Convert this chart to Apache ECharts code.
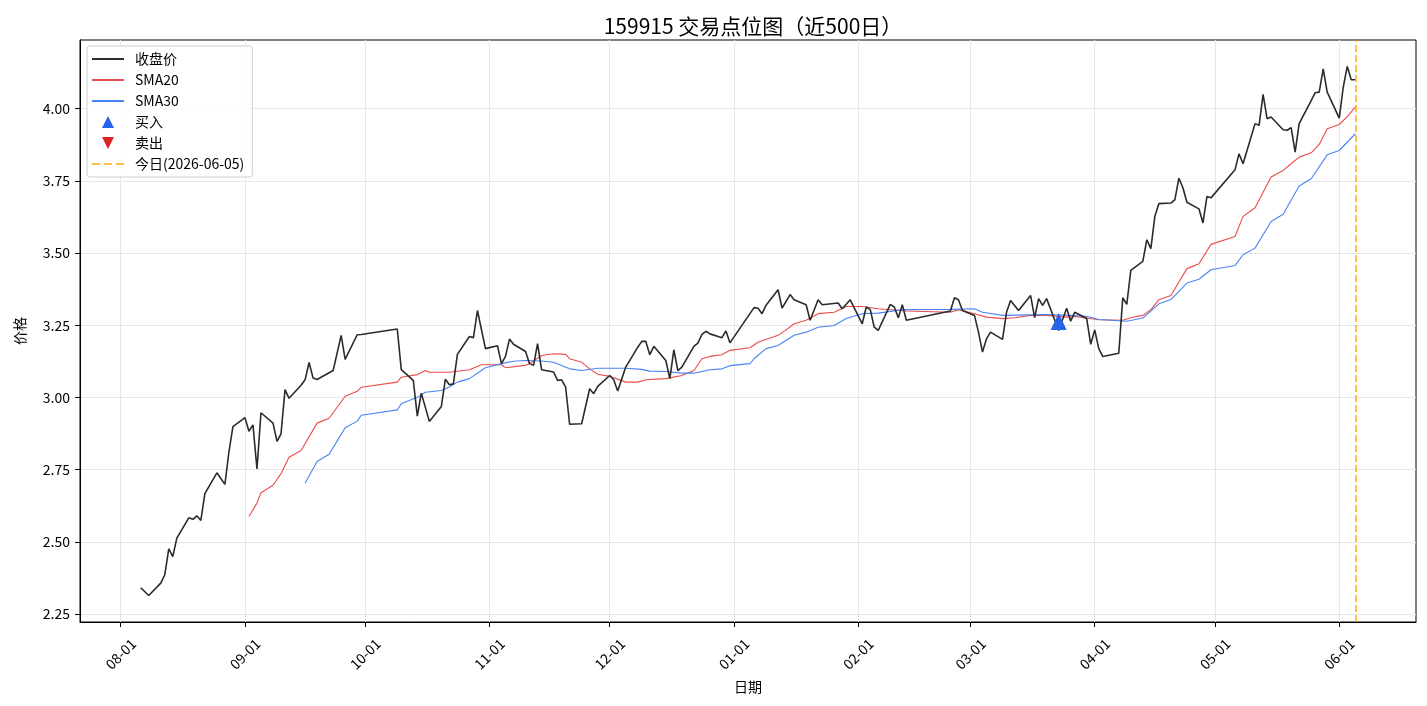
<!DOCTYPE html>
<html>
<head>
<meta charset="utf-8">
<title>159915 交易点位图</title>
<script src="https://cdn.jsdelivr.net/npm/echarts@6/dist/echarts.min.js"></script>
<style>
  html, body { margin: 0; padding: 0; background: #fff; }
  #chart { width: 1427px; height: 706px; }
</style>
</head>
<body>
<div id="chart"></div>
<script>
// closing prices
const priceDates = [
  "2025-08-06", "2025-08-08", "2025-08-11", "2025-08-12", "2025-08-13", "2025-08-14", "2025-08-15",
  "2025-08-18", "2025-08-19", "2025-08-20", "2025-08-21", "2025-08-22", "2025-08-25", "2025-08-27",
  "2025-08-28", "2025-08-29", "2025-09-01", "2025-09-02", "2025-09-03", "2025-09-04", "2025-09-05",
  "2025-09-08", "2025-09-09", "2025-09-10", "2025-09-11", "2025-09-12", "2025-09-15", "2025-09-16",
  "2025-09-17", "2025-09-18", "2025-09-19", "2025-09-23", "2025-09-25", "2025-09-26", "2025-09-29",
  "2025-09-30", "2025-10-09", "2025-10-10", "2025-10-13", "2025-10-14", "2025-10-15", "2025-10-17",
  "2025-10-20", "2025-10-21", "2025-10-22", "2025-10-23", "2025-10-24", "2025-10-27", "2025-10-28",
  "2025-10-29", "2025-10-31", "2025-11-03", "2025-11-04", "2025-11-05", "2025-11-06", "2025-11-07",
  "2025-11-10", "2025-11-11", "2025-11-12", "2025-11-13", "2025-11-14", "2025-11-17", "2025-11-18",
  "2025-11-19", "2025-11-20", "2025-11-21", "2025-11-24", "2025-11-26", "2025-11-27", "2025-11-28",
  "2025-12-01", "2025-12-02", "2025-12-03", "2025-12-05", "2025-12-08", "2025-12-09", "2025-12-10",
  "2025-12-11", "2025-12-12", "2025-12-15", "2025-12-16", "2025-12-17", "2025-12-18", "2025-12-19",
  "2025-12-22", "2025-12-23", "2025-12-24", "2025-12-25", "2025-12-26", "2025-12-29", "2025-12-30",
  "2025-12-31", "2026-01-06", "2026-01-07", "2026-01-08", "2026-01-09", "2026-01-12", "2026-01-13",
  "2026-01-15", "2026-01-16", "2026-01-19", "2026-01-20", "2026-01-22", "2026-01-23", "2026-01-27",
  "2026-01-28", "2026-01-30", "2026-02-02", "2026-02-03", "2026-02-04", "2026-02-05", "2026-02-06",
  "2026-02-09", "2026-02-10", "2026-02-11", "2026-02-12", "2026-02-13", "2026-02-24", "2026-02-25",
  "2026-02-26", "2026-02-27", "2026-03-02", "2026-03-03", "2026-03-04", "2026-03-05", "2026-03-06",
  "2026-03-09", "2026-03-10", "2026-03-11", "2026-03-13", "2026-03-16", "2026-03-17", "2026-03-18",
  "2026-03-19", "2026-03-20", "2026-03-23", "2026-03-25", "2026-03-26", "2026-03-27", "2026-03-30",
  "2026-03-31", "2026-04-01", "2026-04-02", "2026-04-03", "2026-04-07", "2026-04-08", "2026-04-09",
  "2026-04-10", "2026-04-13", "2026-04-14", "2026-04-15", "2026-04-16", "2026-04-17", "2026-04-20",
  "2026-04-21", "2026-04-22", "2026-04-23", "2026-04-24", "2026-04-27", "2026-04-28", "2026-04-29",
  "2026-04-30", "2026-05-06", "2026-05-07", "2026-05-08", "2026-05-11", "2026-05-12", "2026-05-13",
  "2026-05-14", "2026-05-15", "2026-05-18", "2026-05-19", "2026-05-20", "2026-05-21", "2026-05-22",
  "2026-05-25", "2026-05-26", "2026-05-27", "2026-05-28", "2026-05-29", "2026-06-01", "2026-06-02",
  "2026-06-03", "2026-06-04", "2026-06-05"
];
const priceValues = [
  2.341, 2.314, 2.357, 2.386, 2.476, 2.449, 2.513,
  2.583, 2.578, 2.590, 2.574, 2.667, 2.739, 2.699,
  2.811, 2.899, 2.930, 2.883, 2.905, 2.752, 2.947,
  2.911, 2.848, 2.874, 3.027, 2.997, 3.042, 3.061,
  3.121, 3.067, 3.062, 3.093, 3.215, 3.132, 3.217,
  3.218, 3.237, 3.096, 3.059, 2.935, 3.015, 2.917,
  2.969, 3.063, 3.044, 3.047, 3.149, 3.211, 3.207,
  3.301, 3.169, 3.179, 3.117, 3.142, 3.202, 3.184,
  3.159, 3.117, 3.111, 3.186, 3.096, 3.088, 3.059,
  3.061, 3.036, 2.907, 2.909, 3.030, 3.013, 3.038,
  3.076, 3.061, 3.022, 3.105, 3.174, 3.194, 3.194,
  3.148, 3.177, 3.128, 3.065, 3.165, 3.093, 3.105,
  3.177, 3.188, 3.218, 3.229, 3.220, 3.207, 3.230,
  3.189, 3.311, 3.309, 3.290, 3.319, 3.373, 3.309,
  3.356, 3.338, 3.321, 3.267, 3.338, 3.321, 3.327,
  3.307, 3.338, 3.255, 3.313, 3.304, 3.243, 3.232,
  3.322, 3.313, 3.276, 3.321, 3.267, 3.299, 3.345,
  3.338, 3.301, 3.284, 3.226, 3.157, 3.203, 3.226,
  3.201, 3.295, 3.336, 3.301, 3.353, 3.276, 3.342,
  3.319, 3.342, 3.232, 3.309, 3.264, 3.295, 3.273,
  3.184, 3.234, 3.169, 3.142, 3.153, 3.345, 3.322,
  3.440, 3.471, 3.546, 3.515, 3.627, 3.671, 3.673,
  3.685, 3.759, 3.726, 3.676, 3.653, 3.604, 3.696,
  3.691, 3.788, 3.844, 3.809, 3.948, 3.942, 4.049,
  3.965, 3.971, 3.927, 3.925, 3.934, 3.849, 3.948,
  4.028, 4.055, 4.057, 4.138, 4.057, 3.967, 4.074,
  4.146, 4.100, 4.100
];

const sma20Dates = [
  "2025-09-02", "2025-09-04", "2025-09-05", "2025-09-08", "2025-09-10", "2025-09-12", "2025-09-15",
  "2025-09-19", "2025-09-22", "2025-09-26", "2025-09-29", "2025-09-30", "2025-10-09", "2025-10-10",
  "2025-10-14", "2025-10-16", "2025-10-17", "2025-10-22", "2025-10-27", "2025-10-30", "2025-11-04",
  "2025-11-05", "2025-11-10", "2025-11-11", "2025-11-14", "2025-11-17", "2025-11-20", "2025-11-21",
  "2025-11-24", "2025-11-26", "2025-11-28", "2025-12-01", "2025-12-05", "2025-12-08", "2025-12-10",
  "2025-12-15", "2025-12-19", "2025-12-22", "2025-12-24", "2025-12-26", "2025-12-29", "2025-12-31",
  "2026-01-05", "2026-01-07", "2026-01-12", "2026-01-14", "2026-01-16", "2026-01-19", "2026-01-22",
  "2026-01-26", "2026-01-29", "2026-02-02", "2026-02-06", "2026-02-13", "2026-02-24", "2026-02-26",
  "2026-03-02", "2026-03-05", "2026-03-09", "2026-03-12", "2026-03-16", "2026-03-20", "2026-03-25",
  "2026-03-27", "2026-03-30", "2026-04-02", "2026-04-08", "2026-04-10", "2026-04-13", "2026-04-15",
  "2026-04-17", "2026-04-20", "2026-04-24", "2026-04-27", "2026-04-30", "2026-05-06", "2026-05-08",
  "2026-05-11", "2026-05-15", "2026-05-18", "2026-05-20", "2026-05-22", "2026-05-25", "2026-05-27",
  "2026-05-29", "2026-06-01", "2026-06-03", "2026-06-05"
];
const sma20Values = [
  2.588, 2.634, 2.670, 2.696, 2.736, 2.793, 2.816,
  2.911, 2.928, 3.004, 3.021, 3.035, 3.053, 3.070,
  3.079, 3.093, 3.087, 3.087, 3.096, 3.113, 3.113,
  3.103, 3.111, 3.117, 3.145, 3.151, 3.149, 3.134,
  3.122, 3.099, 3.080, 3.073, 3.053, 3.053, 3.061,
  3.065, 3.076, 3.093, 3.134, 3.142, 3.148, 3.163,
  3.172, 3.191, 3.215, 3.234, 3.255, 3.267, 3.290,
  3.295, 3.315, 3.315, 3.307, 3.299, 3.295, 3.304,
  3.290, 3.278, 3.273, 3.276, 3.284, 3.284, 3.278,
  3.280, 3.275, 3.269, 3.267, 3.276, 3.284, 3.304,
  3.338, 3.353, 3.446, 3.463, 3.530, 3.557, 3.627,
  3.657, 3.763, 3.786, 3.809, 3.832, 3.847, 3.876,
  3.930, 3.945, 3.972, 4.005
];

const sma30Dates = [
  "2025-09-16", "2025-09-19", "2025-09-22", "2025-09-25", "2025-09-26", "2025-09-29", "2025-09-30",
  "2025-10-09", "2025-10-10", "2025-10-14", "2025-10-16", "2025-10-20", "2025-10-22", "2025-10-24",
  "2025-10-27", "2025-10-31", "2025-11-04", "2025-11-07", "2025-11-10", "2025-11-14", "2025-11-17",
  "2025-11-21", "2025-11-24", "2025-11-28", "2025-12-05", "2025-12-09", "2025-12-11", "2025-12-15",
  "2025-12-19", "2025-12-22", "2025-12-26", "2025-12-29", "2025-12-31", "2026-01-05", "2026-01-06",
  "2026-01-09", "2026-01-12", "2026-01-16", "2026-01-19", "2026-01-22", "2026-01-26", "2026-01-29",
  "2026-02-02", "2026-02-06", "2026-02-12", "2026-02-24", "2026-03-02", "2026-03-04", "2026-03-09",
  "2026-03-16", "2026-03-20", "2026-03-26", "2026-03-30", "2026-04-02", "2026-04-09", "2026-04-13",
  "2026-04-17", "2026-04-20", "2026-04-24", "2026-04-27", "2026-04-30", "2026-05-06", "2026-05-08",
  "2026-05-11", "2026-05-15", "2026-05-18", "2026-05-22", "2026-05-25", "2026-05-29", "2026-06-01",
  "2026-06-05"
];
const sma30Values = [
  2.703, 2.778, 2.803, 2.872, 2.895, 2.918, 2.938,
  2.957, 2.978, 3.001, 3.018, 3.024, 3.036, 3.053,
  3.065, 3.103, 3.117, 3.125, 3.128, 3.126, 3.122,
  3.099, 3.093, 3.101, 3.101, 3.097, 3.091, 3.090,
  3.084, 3.084, 3.096, 3.099, 3.110, 3.117, 3.134,
  3.169, 3.180, 3.215, 3.226, 3.243, 3.249, 3.273,
  3.290, 3.292, 3.304, 3.305, 3.307, 3.295, 3.284,
  3.286, 3.287, 3.284, 3.281, 3.270, 3.264, 3.275,
  3.324, 3.339, 3.396, 3.409, 3.442, 3.457, 3.494,
  3.517, 3.609, 3.634, 3.732, 3.757, 3.840, 3.855,
  3.913
];

const buyDates = ["2026-03-23"];
const buyValues = [3.263];
const sellDates = [];
const sellValues = [];
const todayDate = "2026-06-05";

const monthTicks = [
  "2025-08-01", "2025-09-01", "2025-10-01", "2025-11-01", "2025-12-01", "2026-01-01",
  "2026-02-01", "2026-03-01", "2026-04-01", "2026-05-01", "2026-06-01"
];
const priceTicks = [2.25, 2.5, 2.75, 3.0, 3.25, 3.5, 3.75, 4.0];

const FONT = "'Noto Sans CJK SC', 'DejaVu Sans', sans-serif";

function toTime(s) {
  const p = s.split("-");
  return new Date(+p[0], +p[1] - 1, +p[2]).getTime();
}
function pairs(dates, values) {
  return dates.map((d, i) => [toTime(d), values[i]]);
}
function pad2(n) { return n < 10 ? "0" + n : "" + n; }

// matplotlib-like 5% margins
const tFirst = toTime(priceDates[0]);
const tLast = toTime(priceDates[priceDates.length - 1]);
const tPad = (tLast - tFirst) * 0.05;
const allVals = priceValues.concat(sma20Values, sma30Values, buyValues, sellValues);
const vMin = Math.min.apply(null, allVals);
const vMax = Math.max.apply(null, allVals);
const vPad = (vMax - vMin) * 0.05;
const monthTickTimes = monthTicks.map(toTime);

const linePath = "path://M0,0h32v2h-32z";
const dashPath = "path://M0,0h8v2h-8z M12,0h8v2h-8z M24,0h8v2h-8z";
const upTri = "path://M5,0L10,10L0,10Z";
const downTri = "path://M0,0L10,0L5,10Z";

const chart = echarts.init(document.getElementById("chart"));

const option = {
  backgroundColor: "#fff",
  animation: false,
  textStyle: { fontFamily: FONT, color: "#000" },
  title: {
    text: "159915 交易点位图（近500日）",
    left: 748,
    textAlign: "center",
    top: 11,
    textStyle: { fontFamily: FONT, fontSize: 21, fontWeight: "normal", color: "#000" }
  },
  legend: {
    orient: "vertical",
    left: 87,
    top: 46,
    padding: [6, 8, 6, 5],
    itemWidth: 32,
    itemHeight: 12,
    itemGap: 7,
    backgroundColor: "rgba(255,255,255,0.85)",
    borderColor: "#d0d0d0",
    borderWidth: 1,
    borderRadius: 3,
    textStyle: { fontFamily: FONT, fontSize: 14, color: "#000", padding: [0, 0, 0, 6] },
    data: [
      { name: "收盘价", icon: linePath },
      { name: "SMA20", icon: linePath },
      { name: "SMA30", icon: linePath },
      { name: "买入", icon: upTri },
      { name: "卖出", icon: downTri },
      { name: "今日(2026-06-05)", icon: dashPath }
    ]
  },
  grid: {
    left: 80,
    right: 11,
    top: 40,
    bottom: 84,
    show: true,
    borderColor: "#000",
    borderWidth: 1
  },
  xAxis: {
    type: "value",
    min: tFirst - tPad,
    max: tLast + tPad,
    name: "日期",
    nameLocation: "middle",
    nameGap: 58,
    nameTextStyle: { fontFamily: FONT, fontSize: 14, color: "#000" },
    axisLine: { show: true, onZero: false, lineStyle: { color: "#000", width: 1 } },
    axisTick: {
      show: true,
      length: 5,
      lineStyle: { color: "#000" },
      customValues: monthTickTimes
    },
    axisLabel: {
      customValues: monthTickTimes,
      rotate: 45,
      align: "center",
      verticalAlign: "middle",
      margin: 32,
      fontSize: 14,
      color: "#000",
      fontFamily: FONT,
      formatter: function (v) {
        const d = new Date(v);
        return pad2(d.getMonth() + 1) + "-" + pad2(d.getDate());
      }
    },
    splitLine: { show: true, lineStyle: { color: "#e6e6e6", width: 1 } }
  },
  yAxis: {
    type: "value",
    min: vMin - vPad,
    max: vMax + vPad,
    name: "价格",
    nameLocation: "middle",
    nameGap: 53,
    nameTextStyle: { fontFamily: FONT, fontSize: 14, color: "#000" },
    axisLine: { show: true, lineStyle: { color: "#000", width: 1 } },
    axisTick: {
      show: true,
      length: 5,
      lineStyle: { color: "#000" },
      customValues: priceTicks
    },
    axisLabel: {
      customValues: priceTicks,
      margin: 10,
      fontSize: 14,
      color: "#000",
      fontFamily: FONT,
      formatter: function (v) { return v.toFixed(2); }
    },
    splitLine: { show: true, lineStyle: { color: "#e6e6e6", width: 1 } }
  },
  series: [
    {
      name: "收盘价",
      type: "line",
      data: pairs(priceDates, priceValues),
      showSymbol: false,
      color: "#2b2b2b",
      lineStyle: { color: "#2b2b2b", width: 1.6 },
      z: 3
    },
    {
      name: "SMA20",
      type: "line",
      data: pairs(sma20Dates, sma20Values),
      showSymbol: false,
      color: "#ea4b4b",
      lineStyle: { color: "#ea4b4b", width: 1.1 },
      z: 2
    },
    {
      name: "SMA30",
      type: "line",
      data: pairs(sma30Dates, sma30Values),
      showSymbol: false,
      color: "#4a84f4",
      lineStyle: { color: "#4a84f4", width: 1.1 },
      z: 2
    },
    {
      name: "买入",
      type: "scatter",
      data: pairs(buyDates, buyValues),
      symbol: "triangle",
      symbolSize: [16, 17],
      color: "#2563eb",
      itemStyle: { color: "#2563eb", opacity: 1 },
      z: 5
    },
    {
      name: "卖出",
      type: "scatter",
      data: pairs(sellDates, sellValues),
      symbol: downTri,
      symbolSize: [16, 17],
      color: "#dc2626",
      itemStyle: { color: "#dc2626", opacity: 1 },
      z: 5
    },
    {
      name: "今日(2026-06-05)",
      type: "line",
      data: [],
      color: "rgba(255,165,0,0.7)",
      lineStyle: { color: "rgba(255,165,0,0.7)" },
      markLine: {
        silent: true,
        symbol: "none",
        label: { show: false },
        lineStyle: { color: "rgba(255,165,0,0.7)", type: [7, 3], width: 2 },
        data: [{ xAxis: toTime(todayDate) }]
      },
      z: 4
    }
  ]
};

chart.setOption(option);
</script>
</body>
</html>
